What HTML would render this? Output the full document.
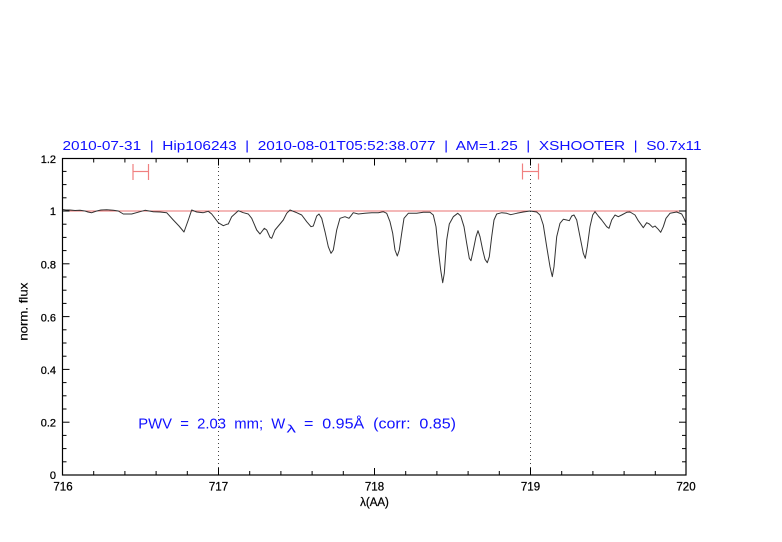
<!DOCTYPE html>
<html><head><meta charset="utf-8"><style>
html,body{margin:0;padding:0;background:#fff;}
svg{display:block;}
text{font-family:"Liberation Sans",sans-serif;white-space:pre;}
</style></head><body>
<svg width="782" height="542" viewBox="0 0 782 542" xmlns="http://www.w3.org/2000/svg" xml:space="preserve">
<rect width="782" height="542" fill="#fff"/>
<text x="62.5" y="150" font-size="13" fill="#1010ff" textLength="639" lengthAdjust="spacingAndGlyphs">2010-07-31  |  Hip106243  |  2010-08-01T05:52:38.077  |  AM=1.25  |  XSHOOTER  |  S0.7x11</text>
<line x1="62.5" y1="211" x2="686" y2="211" stroke="#e87070" stroke-width="1"/>
<line x1="218.5" y1="159" x2="218.5" y2="475" stroke="#444" stroke-width="1" stroke-dasharray="1,3"/>
<line x1="530.5" y1="159" x2="530.5" y2="475" stroke="#444" stroke-width="1" stroke-dasharray="1,3"/>
<g stroke="#f08080" stroke-width="1.2" fill="none">
<line x1="133" y1="164" x2="133" y2="180"/><line x1="148.5" y1="164" x2="148.5" y2="180"/><line x1="133" y1="171.5" x2="148.5" y2="171.5"/>
<line x1="522.5" y1="163.5" x2="522.5" y2="179.5"/><line x1="538.5" y1="163.5" x2="538.5" y2="179.5"/><line x1="522.5" y1="171.5" x2="538.5" y2="171.5"/>
</g>
<polyline fill="none" stroke="#333" stroke-width="1" stroke-linejoin="round" points="
62.5,209.5 66,210 70,210 75,210.5 80,210.3 85,211 88,212 91.7,212.7 96.7,211 101,210 106.7,209.7 113.3,210.3 118.3,211 123.3,214 131.7,214 140,211.7 145,210.3 153.3,211.7 160,212 166.7,212.7 173.3,220 179,226 184,232 188.3,220 191.7,210 196.7,212 203.3,212.7 208.3,211.3 211.7,214 218.3,222.7 223.3,225.7 226.7,224.3 228.3,224 231.7,216.7 238.3,210.7 243.3,212.7 248.3,214 251.7,218.3 256.7,230 260,234 264.3,228.3 266.7,230 270,237.3 271.7,238.3 275,230 280,224 283.3,220 286.7,213.3 290,210 296.7,212.7 301.7,215 306.7,221.7 311,226.7 313.3,226 316.7,216 319,214 321.7,218.3 325,231.7 328.3,246.7 331,253.3 333.3,250 336.7,230 340,218.3 345,216.7 349,218.3 353.3,212.7 358.3,214 365,213.3 371.7,212.7 378.3,212.7 383.3,211.7 386.7,213.3 390,221.7 392.7,233.3 395,250 397.3,256 399.3,250 401.7,233.3 404,218.3 408.3,213.3 416.7,213.3 423.3,212.3 430,212.3 433.3,215 436,226.7 438.3,250 440.7,270 442.7,282.7 444.3,273.3 446.7,240 449.3,224 453.3,216.7 457.7,213.3 460.7,216 464,226.7 466.7,243.3 469.3,258.3 471,260.7 473.3,250 476,236.7 478,230.7 480,236.7 482.7,250 485,259.3 487.3,262.7 489.3,256.7 491.7,236.7 494,220 496.7,214 501.7,212.7 506.7,213.3 510.7,214.7 516.7,213.3 523.3,212 530,211 536.7,212 540,215 543.3,225 546.7,246.7 550,266.7 552.3,276.7 554,266.7 556.7,236.7 560,223.3 563.3,219.3 566.7,220 569.3,220.7 571.7,216 574,215 576.7,220 580,236.7 583.3,253.3 585.3,258.3 587.3,246.7 590,226.7 592.7,215 595,211.7 598.3,216 601.7,220 606.7,226.7 609,228.3 611.7,220 615,215 618.3,216.7 621.7,215 626.7,212.3 630,212 635,215 638.3,220.7 643.3,227.7 646.7,222.7 649.3,224 652.7,227.3 655,226 658.3,229.3 660.7,232.3 663.3,226.7 666,218.3 670,213.3 676.7,212 681.7,214 684,218.3 686,223"/>
<rect x="62.5" y="158.5" width="623.5" height="316.5" fill="none" stroke="#000" stroke-width="1.2"/>
<g stroke="#000" stroke-width="1">
<line x1="218.5" y1="475" x2="218.5" y2="468"/><line x1="374.5" y1="475" x2="374.5" y2="468"/><line x1="530.5" y1="475" x2="530.5" y2="468"/>
<line x1="218.5" y1="158.5" x2="218.5" y2="165.5"/><line x1="374.5" y1="158.5" x2="374.5" y2="165.5"/><line x1="530.5" y1="158.5" x2="530.5" y2="165.5"/>
<line x1="93.7" y1="475" x2="93.7" y2="471"/><line x1="124.9" y1="475" x2="124.9" y2="471"/><line x1="156.1" y1="475" x2="156.1" y2="471"/><line x1="187.3" y1="475" x2="187.3" y2="471"/>
<line x1="249.7" y1="475" x2="249.7" y2="471"/><line x1="280.9" y1="475" x2="280.9" y2="471"/><line x1="312.1" y1="475" x2="312.1" y2="471"/><line x1="343.3" y1="475" x2="343.3" y2="471"/>
<line x1="405.7" y1="475" x2="405.7" y2="471"/><line x1="436.9" y1="475" x2="436.9" y2="471"/><line x1="468.1" y1="475" x2="468.1" y2="471"/><line x1="499.3" y1="475" x2="499.3" y2="471"/>
<line x1="561.7" y1="475" x2="561.7" y2="471"/><line x1="592.9" y1="475" x2="592.9" y2="471"/><line x1="624.1" y1="475" x2="624.1" y2="471"/><line x1="655.3" y1="475" x2="655.3" y2="471"/>
<line x1="93.7" y1="158.5" x2="93.7" y2="162.5"/><line x1="124.9" y1="158.5" x2="124.9" y2="162.5"/><line x1="156.1" y1="158.5" x2="156.1" y2="162.5"/><line x1="187.3" y1="158.5" x2="187.3" y2="162.5"/>
<line x1="249.7" y1="158.5" x2="249.7" y2="162.5"/><line x1="280.9" y1="158.5" x2="280.9" y2="162.5"/><line x1="312.1" y1="158.5" x2="312.1" y2="162.5"/><line x1="343.3" y1="158.5" x2="343.3" y2="162.5"/>
<line x1="405.7" y1="158.5" x2="405.7" y2="162.5"/><line x1="436.9" y1="158.5" x2="436.9" y2="162.5"/><line x1="468.1" y1="158.5" x2="468.1" y2="162.5"/><line x1="499.3" y1="158.5" x2="499.3" y2="162.5"/>
<line x1="561.7" y1="158.5" x2="561.7" y2="162.5"/><line x1="592.9" y1="158.5" x2="592.9" y2="162.5"/><line x1="624.1" y1="158.5" x2="624.1" y2="162.5"/><line x1="655.3" y1="158.5" x2="655.3" y2="162.5"/>
<line x1="62.5" y1="422.2" x2="69.5" y2="422.2"/><line x1="62.5" y1="369.4" x2="69.5" y2="369.4"/><line x1="62.5" y1="316.6" x2="69.5" y2="316.6"/><line x1="62.5" y1="263.8" x2="69.5" y2="263.8"/><line x1="62.5" y1="211" x2="69.5" y2="211"/>
<line x1="686" y1="422.2" x2="679" y2="422.2"/><line x1="686" y1="369.4" x2="679" y2="369.4"/><line x1="686" y1="316.6" x2="679" y2="316.6"/><line x1="686" y1="263.8" x2="679" y2="263.8"/><line x1="686" y1="211" x2="679" y2="211"/>
<g>
<line x1="62.5" y1="461.8" x2="66.5" y2="461.8"/><line x1="62.5" y1="448.6" x2="66.5" y2="448.6"/><line x1="62.5" y1="435.4" x2="66.5" y2="435.4"/>
<line x1="62.5" y1="409" x2="66.5" y2="409"/><line x1="62.5" y1="395.8" x2="66.5" y2="395.8"/><line x1="62.5" y1="382.6" x2="66.5" y2="382.6"/>
<line x1="62.5" y1="356.2" x2="66.5" y2="356.2"/><line x1="62.5" y1="343" x2="66.5" y2="343"/><line x1="62.5" y1="329.8" x2="66.5" y2="329.8"/>
<line x1="62.5" y1="303.4" x2="66.5" y2="303.4"/><line x1="62.5" y1="290.2" x2="66.5" y2="290.2"/><line x1="62.5" y1="277" x2="66.5" y2="277"/>
<line x1="62.5" y1="250.6" x2="66.5" y2="250.6"/><line x1="62.5" y1="237.4" x2="66.5" y2="237.4"/><line x1="62.5" y1="224.2" x2="66.5" y2="224.2"/>
<line x1="62.5" y1="197.8" x2="66.5" y2="197.8"/><line x1="62.5" y1="184.6" x2="66.5" y2="184.6"/><line x1="62.5" y1="171.4" x2="66.5" y2="171.4"/>
</g>
<g transform="translate(748.5,0) scale(-1,1)">
<line x1="62.5" y1="461.8" x2="66.5" y2="461.8"/><line x1="62.5" y1="448.6" x2="66.5" y2="448.6"/><line x1="62.5" y1="435.4" x2="66.5" y2="435.4"/>
<line x1="62.5" y1="409" x2="66.5" y2="409"/><line x1="62.5" y1="395.8" x2="66.5" y2="395.8"/><line x1="62.5" y1="382.6" x2="66.5" y2="382.6"/>
<line x1="62.5" y1="356.2" x2="66.5" y2="356.2"/><line x1="62.5" y1="343" x2="66.5" y2="343"/><line x1="62.5" y1="329.8" x2="66.5" y2="329.8"/>
<line x1="62.5" y1="303.4" x2="66.5" y2="303.4"/><line x1="62.5" y1="290.2" x2="66.5" y2="290.2"/><line x1="62.5" y1="277" x2="66.5" y2="277"/>
<line x1="62.5" y1="250.6" x2="66.5" y2="250.6"/><line x1="62.5" y1="237.4" x2="66.5" y2="237.4"/><line x1="62.5" y1="224.2" x2="66.5" y2="224.2"/>
<line x1="62.5" y1="197.8" x2="66.5" y2="197.8"/><line x1="62.5" y1="184.6" x2="66.5" y2="184.6"/><line x1="62.5" y1="171.4" x2="66.5" y2="171.4"/>
</g>
</g>
<g font-size="11" fill="#000" text-anchor="end" stroke="#000" stroke-width="0.25">
<text x="56" y="479">0</text>
<text x="56" y="426.5">0.2</text>
<text x="56" y="374">0.4</text>
<text x="56" y="321.5">0.6</text>
<text x="56" y="268.5">0.8</text>
<text x="56" y="215">1</text>
<text x="56" y="163">1.2</text>
</g>
<g font-size="11.5" fill="#000" text-anchor="middle" stroke="#000" stroke-width="0.25">
<text x="63" y="490.5">716</text>
<text x="218.5" y="490.5">717</text>
<text x="374.5" y="490.5">718</text>
<text x="530.5" y="490.5">719</text>
<text x="686" y="490.5">720</text>
</g>
<text x="374.5" y="506" font-size="11.5" text-anchor="middle" fill="#000" stroke="#000" stroke-width="0.25">λ(AA)</text>
<text transform="translate(27.5,311.7) rotate(-90)" font-size="12" text-anchor="middle" fill="#000" textLength="58" lengthAdjust="spacingAndGlyphs" stroke="#000" stroke-width="0.2">norm. flux</text>
<g fill="#1010ff" font-size="15">
<text x="138.3" y="428.3" textLength="147" lengthAdjust="spacingAndGlyphs">PWV  =  2.03  mm;  W</text>
<text x="286.5" y="432.5" font-size="11" textLength="9.5" lengthAdjust="spacingAndGlyphs">λ</text>
<text x="304" y="428.3" textLength="152" lengthAdjust="spacingAndGlyphs">=  0.95Å  (corr:  0.85)</text>
</g>
</svg>
</body></html>
